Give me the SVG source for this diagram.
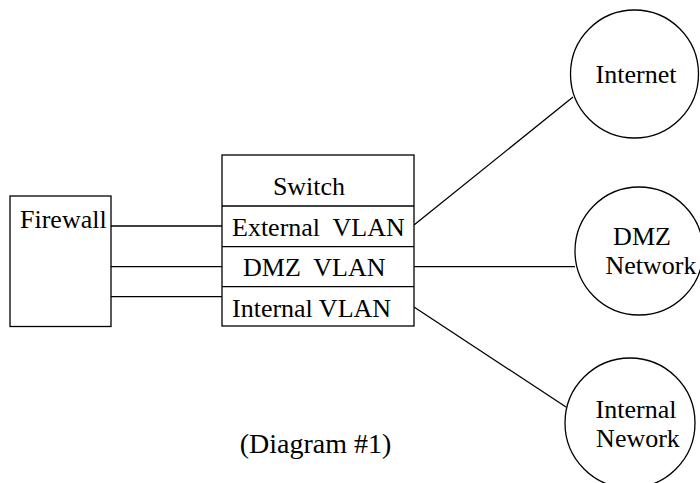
<svg xmlns="http://www.w3.org/2000/svg" width="700" height="483" viewBox="0 0 700 483">
<style>
.s{fill:none;stroke:#000;stroke-width:1.3}
.n{fill:#fff;stroke:#000;stroke-width:1.3}
text{font-family:"Liberation Serif","Times New Roman",serif;font-size:26px;fill:#000;white-space:pre}
.m{text-anchor:middle}
</style>
<rect width="700" height="483" fill="#fff"/>
<g id="connectors">
<line class="s" x1="111" y1="226" x2="222" y2="226"/>
<line class="s" x1="111" y1="266.7" x2="222" y2="266.7"/>
<line class="s" x1="111" y1="296.7" x2="222" y2="296.7"/>
<line class="s" x1="414" y1="225" x2="573" y2="97"/>
<line class="s" x1="414" y1="266.7" x2="575" y2="266.7"/>
<line class="s" x1="414" y1="307" x2="566" y2="407"/>
</g>
<g id="firewall">
<rect class="n" x="10" y="196" width="101" height="130.5"/>
<text x="20" y="228">Firewall</text>
</g>
<g id="switch">
<rect class="n" x="222" y="155" width="192" height="171"/>
<line class="s" x1="222" y1="206" x2="414" y2="206"/>
<line class="s" x1="222" y1="246.7" x2="414" y2="246.7"/>
<line class="s" x1="222" y1="286.7" x2="414" y2="286.7"/>
<text class="m" x="309" y="195">Switch</text>
<text x="232" y="236">External  VLAN</text>
<text x="243" y="276">DMZ  VLAN</text>
<text x="232" y="316.5">Internal VLAN</text>
</g>
<g id="internet">
<circle class="n" cx="634.5" cy="74" r="64"/>
<text class="m" x="636" y="83">Internet</text>
</g>
<g id="dmz-network">
<circle class="n" cx="639" cy="251" r="64"/>
<text class="m" x="642" y="245">DMZ</text>
<text class="m" x="651" y="274">Network</text>
</g>
<g id="internal-network">
<circle class="n" cx="630" cy="423" r="65"/>
<text class="m" x="636" y="418">Internal</text>
<text class="m" x="638" y="447">Nework</text>
</g>
<g id="caption">
<text class="m" x="315.5" y="453" style="font-size:28px">(Diagram #1)</text>
</g>
</svg>
